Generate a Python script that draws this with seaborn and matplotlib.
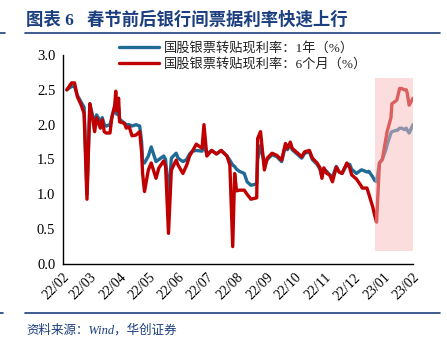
import matplotlib
matplotlib.use("Agg")
import matplotlib.pyplot as plt
import matplotlib.dates as mdates
import matplotlib.patches as mpatches
from matplotlib.lines import Line2D
import pandas as pd
import seaborn as sns

sns.set_theme(style="white")
plt.rcParams['font.family'] = ['Liberation Serif', 'Noto Sans CJK SC']
plt.rcParams['axes.unicode_minus'] = False

dates = [
    "2022-02-05", "2022-02-10", "2022-02-13", "2022-02-16", "2022-02-20", "2022-02-23",
    "2022-02-26", "2022-03-01", "2022-03-03", "2022-03-04", "2022-03-06", "2022-03-08",
    "2022-03-12", "2022-03-14", "2022-03-16", "2022-03-18", "2022-03-22", "2022-03-24",
    "2022-03-27", "2022-03-28", "2022-03-29", "2022-03-31", "2022-04-01", "2022-04-06",
    "2022-04-08", "2022-04-11", "2022-04-14", "2022-04-18", "2022-04-22", "2022-04-24",
    "2022-04-25", "2022-04-27", "2022-05-01", "2022-05-04", "2022-05-09", "2022-05-12",
    "2022-05-17", "2022-05-19", "2022-05-22", "2022-05-25", "2022-05-30", "2022-06-01",
    "2022-06-06", "2022-06-10", "2022-06-13", "2022-06-16", "2022-06-20", "2022-06-26",
    "2022-06-28", "2022-07-01", "2022-07-06", "2022-07-11", "2022-07-16", "2022-07-22",
    "2022-07-25", "2022-07-28", "2022-07-30", "2022-08-01", "2022-08-04", "2022-08-09",
    "2022-08-12", "2022-08-16", "2022-08-22", "2022-08-23", "2022-08-26", "2022-08-30",
    "2022-09-02", "2022-09-07", "2022-09-12", "2022-09-17", "2022-09-21", "2022-09-23",
    "2022-09-26", "2022-09-28", "2022-10-08", "2022-10-11", "2022-10-16", "2022-10-19",
    "2022-10-24", "2022-10-27", "2022-10-29", "2022-10-31", "2022-11-03", "2022-11-06",
    "2022-11-09", "2022-11-13", "2022-11-16", "2022-11-19", "2022-11-24", "2022-11-27",
    "2022-11-29", "2022-12-04", "2022-12-09", "2022-12-10", "2022-12-15", "2022-12-17",
    "2022-12-21", "2022-12-23", "2022-12-25", "2022-12-28", "2022-12-31", "2023-01-04",
    "2023-01-05", "2023-01-09", "2023-01-10", "2023-01-15", "2023-01-16", "2023-01-18",
    "2023-01-20", "2023-01-23", "2023-01-25", "2023-01-26", "2023-01-28", "2023-02-01",
]
rate_1y = [
    2.50, 2.55, 2.55, 2.42, 2.32, 2.25,
    1.00, 2.30, 2.18, 2.12, 2.05, 2.14,
    2.05, 2.10, 2.00, 1.98, 2.00, 2.10,
    2.25, 2.35, 2.15, 2.25, 2.08, 2.02,
    2.00, 2.00, 1.98, 2.00, 1.98, 1.75,
    1.48, 1.45, 1.55, 1.68, 1.47, 1.50,
    1.55, 1.50, 0.96, 1.52, 1.59, 1.52,
    1.47, 1.50, 1.58, 1.62, 1.63, 1.62,
    1.70, 1.58, 1.63, 1.58, 1.63, 1.55,
    1.49, 1.42, 1.40, 1.36, 1.33, 1.30,
    1.18, 1.13, 1.15, 1.50, 1.70, 1.45,
    1.50, 1.57, 1.54, 1.47, 1.70, 1.64,
    1.72, 1.64, 1.52, 1.59, 1.61, 1.50,
    1.43, 1.36, 1.26, 1.36, 1.33, 1.28,
    1.25, 1.40, 1.32, 1.30, 1.43, 1.43,
    1.36, 1.30, 1.35, 1.35, 1.32, 1.33,
    1.25, 1.20, 1.18, 1.45, 1.50, 1.65,
    1.71, 1.88, 1.90, 1.92, 1.92, 1.95,
    1.95, 1.93, 1.95, 1.92, 1.88, 2.00,
]
rate_6m = [
    2.50, 2.60, 2.60, 2.40, 2.28, 2.16,
    0.93, 2.30, 2.14, 2.07, 1.90, 2.10,
    1.95, 2.07, 1.90, 1.88, 1.88, 2.11,
    2.28, 2.48, 2.20, 2.38, 2.04, 2.02,
    1.95, 1.97, 1.84, 1.85, 1.90, 1.60,
    1.30, 1.04, 1.35, 1.45, 1.23, 1.38,
    1.48, 1.40, 0.44, 1.35, 1.49, 1.42,
    1.30, 1.42, 1.55, 1.62, 1.72, 1.66,
    2.00, 1.55, 1.63, 1.58, 1.63, 1.55,
    1.42, 0.25, 1.30, 1.05, 1.06, 1.06,
    1.00, 0.93, 0.95, 1.80, 1.90, 1.35,
    1.52, 1.59, 1.56, 1.49, 1.73, 1.66,
    1.75, 1.66, 1.54, 1.61, 1.63, 1.52,
    1.45, 1.38, 1.23, 1.38, 1.30, 1.28,
    1.18, 1.39, 1.32, 1.30, 1.45, 1.38,
    1.28, 1.22, 1.12, 1.09, 1.09, 1.00,
    0.82, 0.70, 0.60, 1.45, 1.50, 1.82,
    1.90, 2.10, 2.30, 2.35, 2.40, 2.52,
    2.52, 2.50, 2.50, 2.45, 2.28, 2.38,
]
label_1y = "国股银票转贴现利率：1年（%）"
label_6m = "国股银票转贴现利率：6个月（%）"
title = "图表 6   春节前后银行间票据利率快速上行"
source = "资料来源：Wind，华创证券"
y_ticks = [0.0, 0.5, 1.0, 1.5, 2.0, 2.5, 3.0]
shade_range = ("2022-12-23", "2023-02-01")
shade_y = (0.19, 2.67)

blue = "#1f6b96"
red = "#c00000"
navy = "#1c3f7f"

df = pd.DataFrame({"date": pd.to_datetime(dates), "r1y": rate_1y, "r6m": rate_6m})

fig = plt.figure(figsize=(4.47, 3.40), dpi=100)
ax = fig.add_axes([63 / 447, 1 - 264 / 340, (413 - 63) / 447, (264 - 55) / 340])

sns.lineplot(data=df, x="date", y="r1y", ax=ax, color=blue, linewidth=2.4, label=label_1y)
sns.lineplot(data=df, x="date", y="r6m", ax=ax, color=red, linewidth=2.4, label=label_6m)

x0 = mdates.date2num(pd.Timestamp(shade_range[0]))
x1 = mdates.date2num(pd.Timestamp(shade_range[1]))
rect = mpatches.Rectangle((x0, shade_y[0]), x1 - x0, shade_y[1] - shade_y[0],
                          facecolor="#fbbcbc", alpha=0.5, edgecolor="none", zorder=5)
ax.add_patch(rect)

ax.set_xlim(pd.Timestamp("2022-02-01"), pd.Timestamp("2023-02-01"))
ax.set_ylim(0, 3.0)
ax.set_yticks(y_ticks)
ax.set_yticklabels([f"{v:.1f}" for v in y_ticks], fontsize=10.5)
ax.xaxis.set_major_locator(mdates.MonthLocator())
ax.xaxis.set_major_formatter(mdates.DateFormatter("%y/%m"))
for lab in ax.get_xticklabels():
    lab.set_rotation(45)
    lab.set_ha("right")
    lab.set_rotation_mode("anchor")
    lab.set_fontsize(10)
ax.set_xlabel("")
ax.set_ylabel("")
for s in ["top", "right"]:
    ax.spines[s].set_visible(False)
for s in ["left", "bottom"]:
    ax.spines[s].set_color("black")
    ax.spines[s].set_linewidth(1.0)
ax.tick_params(axis="x", direction="in", length=3.5, width=1, color="black", pad=5, labelcolor="black")
ax.tick_params(axis="y", direction="out", length=3.5, width=1, color="black", pad=2, labelcolor="black")
ax.grid(False)

leg = ax.legend(loc="upper left", bbox_to_anchor=(0.145, 1.09), frameon=False,
                fontsize=9.5, handlelength=3.0, handletextpad=0.4, labelspacing=0.25,
                borderaxespad=0)
for t in leg.get_texts():
    t.set_color("#222222")

fig.text(26 / 447, 1 - 20 / 340, title, fontsize=12.5, fontweight="bold", color=navy,
         va="center", ha="left", family=["Liberation Serif", "Noto Sans CJK SC"])
fig.add_artist(Line2D([25 / 447, 440 / 447], [1 - 33 / 340] * 2, color=navy, linewidth=1.2))
fig.add_artist(Line2D([0, 5 / 447], [1 - 33 / 340] * 2, color=navy, linewidth=1.2))
fig.add_artist(Line2D([25 / 447, 440 / 447], [1 - 313 / 340] * 2, color=navy, linewidth=1.2))
fig.add_artist(Line2D([0, 3 / 447], [1 - 313 / 340] * 2, color=navy, linewidth=1.2))
fig.text(26 / 447, 1 - 330 / 340, source, fontsize=9, style="italic", color=navy,
         va="center", ha="left")

fig.savefig("out.png", dpi=100)
